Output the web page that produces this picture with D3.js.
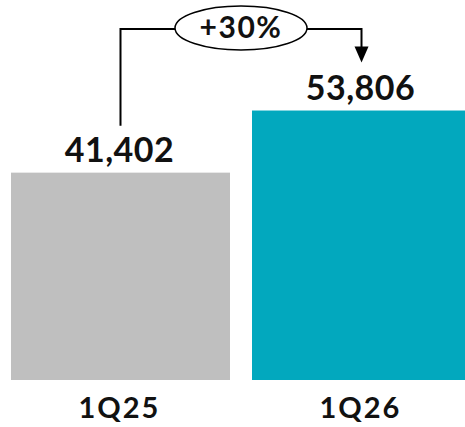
<!DOCTYPE html>
<html>
<head>
<meta charset="utf-8">
<script src="https://cdn.jsdelivr.net/npm/d3@7/dist/d3.min.js"></script>
<style>
  html, body { margin: 0; padding: 0; background: #fff; }
  svg { display: block; }
  text { font-family: Lato, "Liberation Sans", Arial, sans-serif; fill: #111; }
</style>
</head>
<body>
<svg id="chart" width="465" height="427"></svg>
<script>
// Quarterly totals
const categories = ["1Q25", "1Q26"];
const values = [41402, 53806];
const colors = ["#bfbfbf", "#02a8be"];
const growthLabel = "+30%";

const svg = d3.select("#chart");

const x = d3.scaleBand()
  .domain(categories)
  .range([11, 471])
  .paddingInner(0.0913)
  .paddingOuter(0);

const y = d3.scaleLinear()
  .domain([0, 60000])
  .range([380, 79.5]);

const fmt = d3.format(",");
const cx = d => x(d) + x.bandwidth() / 2;

// Bars
svg.selectAll("rect.bar")
  .data(categories)
  .join("rect")
  .attr("class", "bar")
  .attr("x", d => x(d))
  .attr("y", (d, i) => y(values[i]))
  .attr("width", x.bandwidth())
  .attr("height", (d, i) => y(0) - y(values[i]))
  .attr("fill", (d, i) => colors[i]);

// Value labels above bars
svg.selectAll("text.value")
  .data(categories)
  .join("text")
  .attr("class", "value")
  .attr("x", d => cx(d) - 1)
  .attr("y", (d, i) => y(values[i]) - 11)
  .attr("text-anchor", "middle")
  .attr("font-size", 34)
  .attr("font-weight", 700)
  .attr("letter-spacing", 0.5)
  .text((d, i) => fmt(values[i]));

// Category labels under bars
svg.selectAll("text.cat")
  .data(categories)
  .join("text")
  .attr("class", "cat")
  .attr("x", d => cx(d) - 1)
  .attr("y", 418)
  .attr("text-anchor", "middle")
  .attr("font-size", 29)
  .attr("font-weight", 700)
  .attr("letter-spacing", 2)
  .text(d => d);

// Growth connector: up from first label, across, down to second label
const topY = 29;
const x0 = cx(categories[0]), x1 = cx(categories[1]);
const startY = y(values[0]) - 47;
const tipY = y(values[1]) - 48;
const headH = 16, headW = 14;

svg.append("path")
  .attr("d", `M${x0},${startY} V${topY} H${x1} V${tipY - headH + 1}`)
  .attr("fill", "none")
  .attr("stroke", "#000")
  .attr("stroke-width", 2);

svg.append("path")
  .attr("d", `M${x1 - headW / 2},${tipY - headH} L${x1 + headW / 2},${tipY - headH} L${x1},${tipY} Z`)
  .attr("fill", "#000");

const ex = (x0 + x1) / 2;
svg.append("ellipse")
  .attr("cx", ex)
  .attr("cy", 28)
  .attr("rx", 66)
  .attr("ry", 22)
  .attr("fill", "#fff")
  .attr("stroke", "#000")
  .attr("stroke-width", 1.5);

svg.append("text")
  .attr("x", ex)
  .attr("y", 38)
  .attr("text-anchor", "middle")
  .attr("font-family", "'Liberation Sans', Arial, sans-serif")
  .attr("font-size", 30)
  .attr("font-weight", 700)
  .attr("letter-spacing", 1.5)
  .text(growthLabel);
</script>
</body>
</html>
